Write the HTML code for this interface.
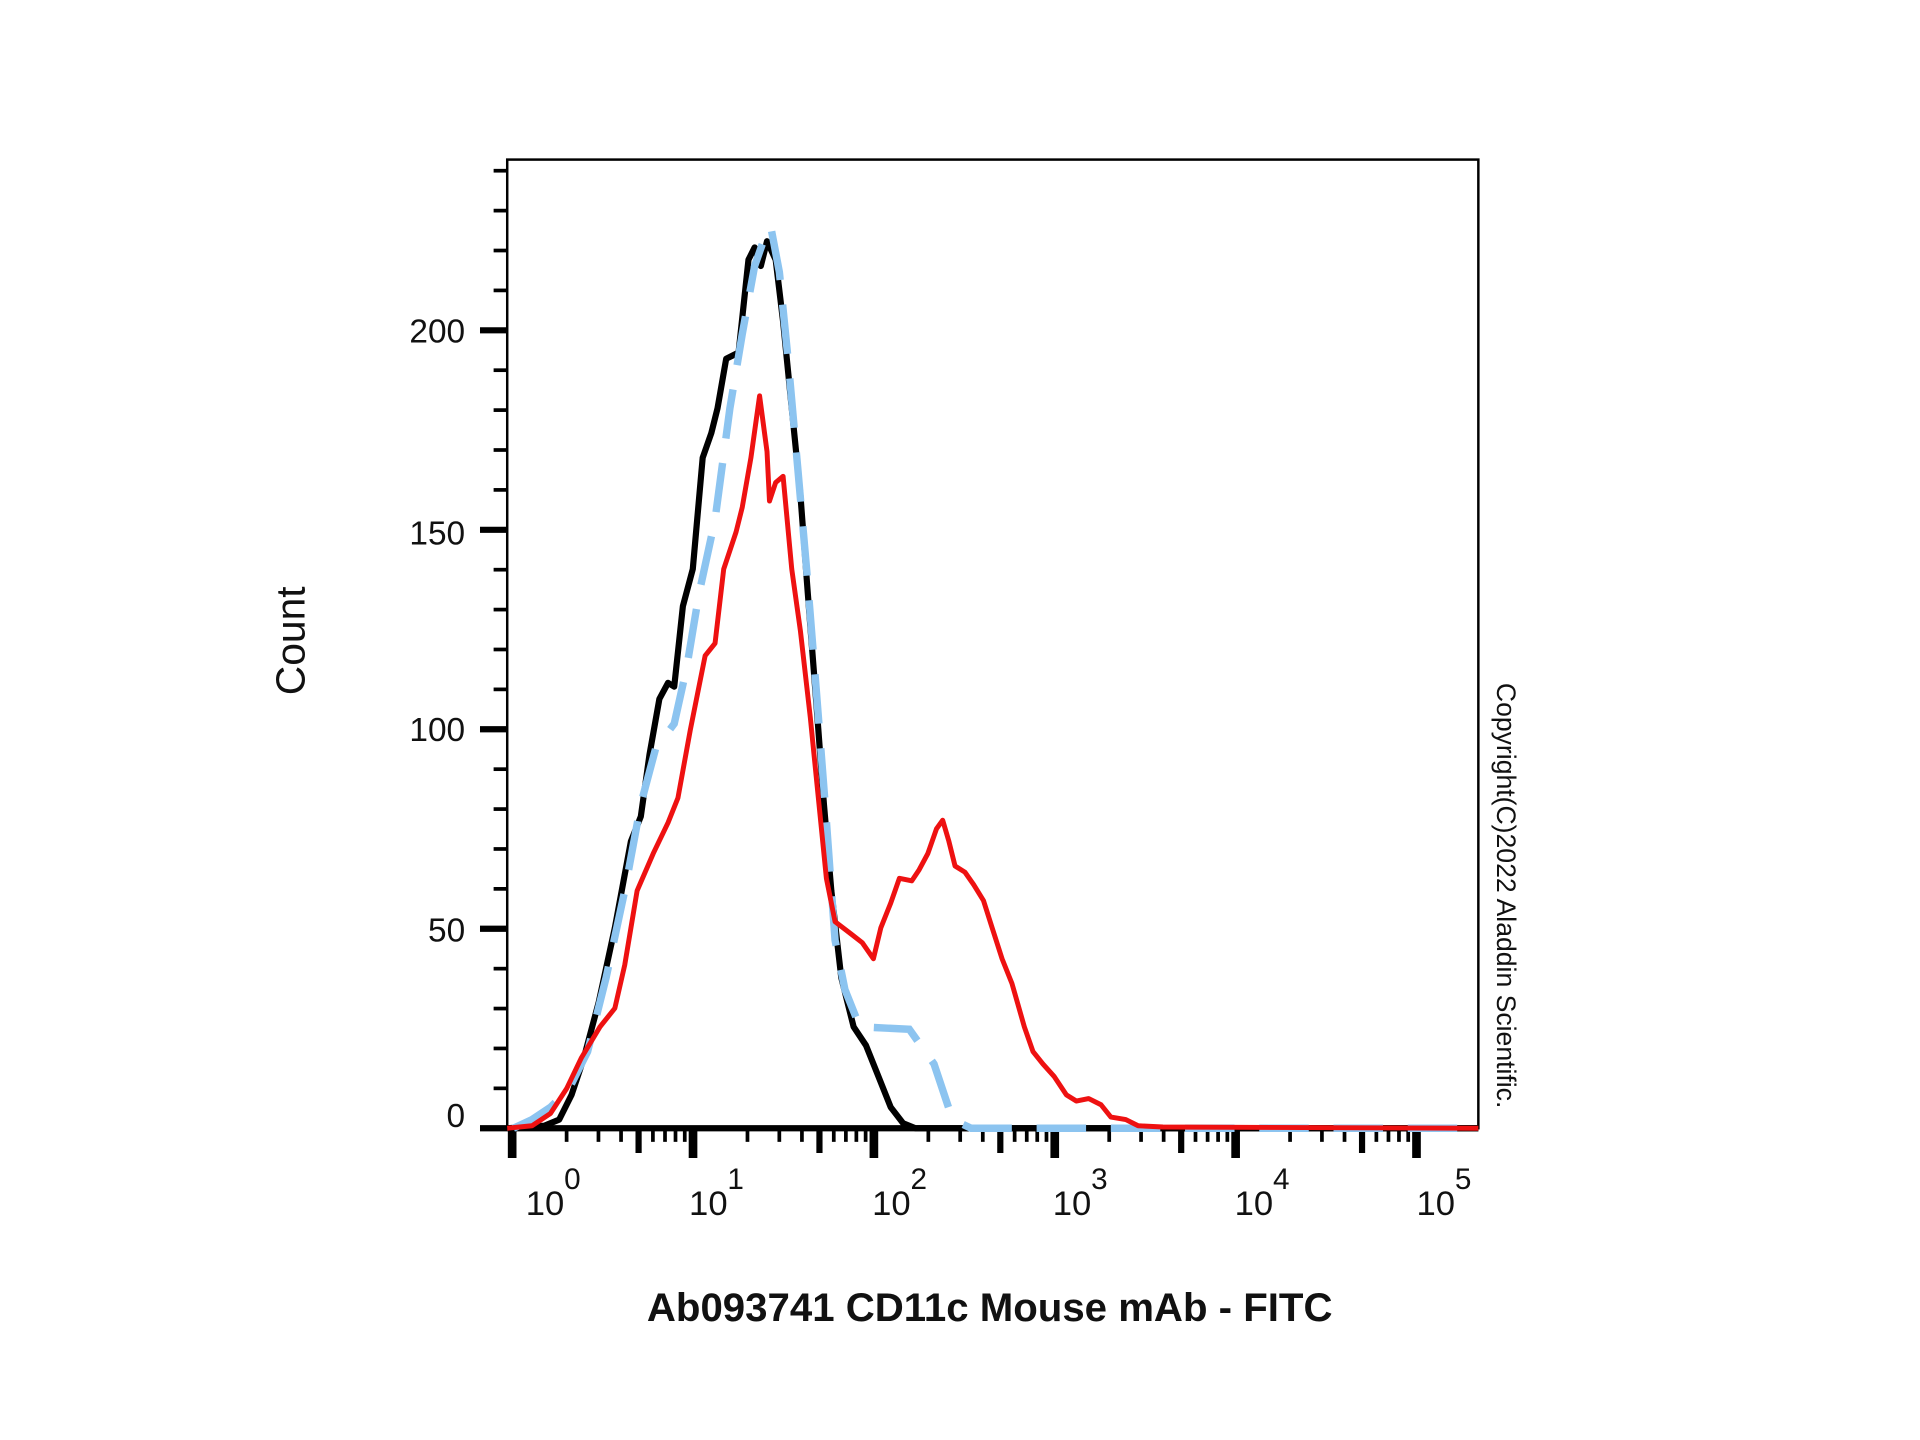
<!DOCTYPE html>
<html><head><meta charset="utf-8"><style>html,body{margin:0;padding:0;background:#fff}svg{display:block}</style></head>
<body>
<svg width="1920" height="1440" viewBox="0 0 1552 1164" preserveAspectRatio="none" xmlns="http://www.w3.org/2000/svg" font-family="Liberation Sans, sans-serif">
<rect width="1552" height="1164" fill="#fff"/>
<rect x="410" y="129" width="785" height="783" fill="none" stroke="#000" stroke-width="2"/>
<g stroke="#000" id="yt"></g>
<g stroke="#000" id="xt"></g>
<line x1="410" y1="912" x2="1195" y2="912" stroke="#000" stroke-width="5"/>
<g font-size="27" fill="#111" text-anchor="end">
<text x="376" y="911">0</text><text x="376" y="761">50</text><text x="376" y="599">100</text><text x="376" y="440">150</text><text x="376" y="277">200</text>
</g>
<g font-size="28" fill="#111">
<text x="425" y="982">10</text><text x="456" y="961" font-size="24">0</text>
<text x="557" y="982">10</text><text x="588" y="961" font-size="24">1</text>
<text x="705" y="982">10</text><text x="736" y="961" font-size="24">2</text>
<text x="851" y="982">10</text><text x="882" y="961" font-size="24">3</text>
<text x="998" y="982">10</text><text x="1029" y="961" font-size="24">4</text>
<text x="1145" y="982">10</text><text x="1176" y="961" font-size="24">5</text>
</g>
<text transform="translate(246,518) rotate(-90)" font-size="33" text-anchor="middle" fill="#111">Count</text>
<text x="800" y="1068" font-size="32.5" font-weight="bold" text-anchor="middle" fill="#111">Ab093741 CD11c Mouse mAb - FITC</text>
<text transform="translate(1210,552) rotate(90)" font-size="21.5" fill="#111">Copyright(C)2022 Aladdin Scientific.</text>
<polyline fill="none" stroke="#000" stroke-width="5" stroke-linejoin="round" points="410,912 440,910 452,905 462,885 472,855 484,810 497,750 510,680 518,660 525,610 533,565 540,552 545,555 552,490 560,460 568,370 575,350 580,330 587,290 597,285 605,210 610,200 615,215 620,195 627,210 633,260 640,330 647,400 653,480 660,570 666,650 672,720 680,790 690,830 700,845 710,870 720,895 730,908 740,912 1195,912"/>
<polyline fill="none" stroke="#8cc4f0" stroke-width="6" stroke-dasharray="40,20" points="415,912 430,905 445,895 460,880 475,850 490,790 505,720 518,650 530,605 545,585 555,540 565,480 578,420 590,330 600,270 610,215 617,195 623,183 630,220 637,290 645,380 652,460 660,560 667,650 675,760 683,800 695,830 735,832 755,860 770,905 785,912 1195,912"/>
<polyline fill="none" stroke="#ee1111" stroke-width="4" stroke-linejoin="round" points="410,912 430,910 445,900 458,880 470,855 485,830 497,815 505,780 515,720 528,690 540,665 548,645 558,590 570,530 578,520 585,460 595,430 600,410 607,370 614,320 620,365 622,405 627,390 633,385 640,460 647,510 655,580 662,650 668,710 675,745 688,755 697,762 706,775 712,750 720,730 727,710 737,712 743,703 750,690 757,670 762,663 767,680 772,700 780,705 787,715 795,728 802,750 810,775 818,795 828,830 835,850 843,860 852,870 862,885 870,890 880,888 890,893 898,903 910,905 920,910 940,911 1195,912"/>
<script>
var ns="http://www.w3.org/2000/svg";
function L(g,x1,y1,x2,y2,w){var l=document.createElementNS(ns,"line");l.setAttribute("x1",x1);l.setAttribute("y1",y1);l.setAttribute("x2",x2);l.setAttribute("y2",y2);l.setAttribute("stroke-width",w);g.appendChild(l);}
var yt=document.getElementById("yt");
for(var v=0;v<=240;v+=10){var y=912-v*3.225;if(v%50==0)L(yt,388,y,410,y,5);else L(yt,399,y,410,y,3);}
var xt=document.getElementById("xt");
var x0=414,d=146.2;
for(var e=0;e<=5;e++){var x=x0+d*e;L(xt,x,912,x,936,7);
 if(e<5)for(var m=2;m<=9;m++){var xm=x0+d*(e+Math.log10(m));L(xt,xm,912,xm,m==5?932:923,m==5?5:3);}}
</script>
</svg>
</body></html>
